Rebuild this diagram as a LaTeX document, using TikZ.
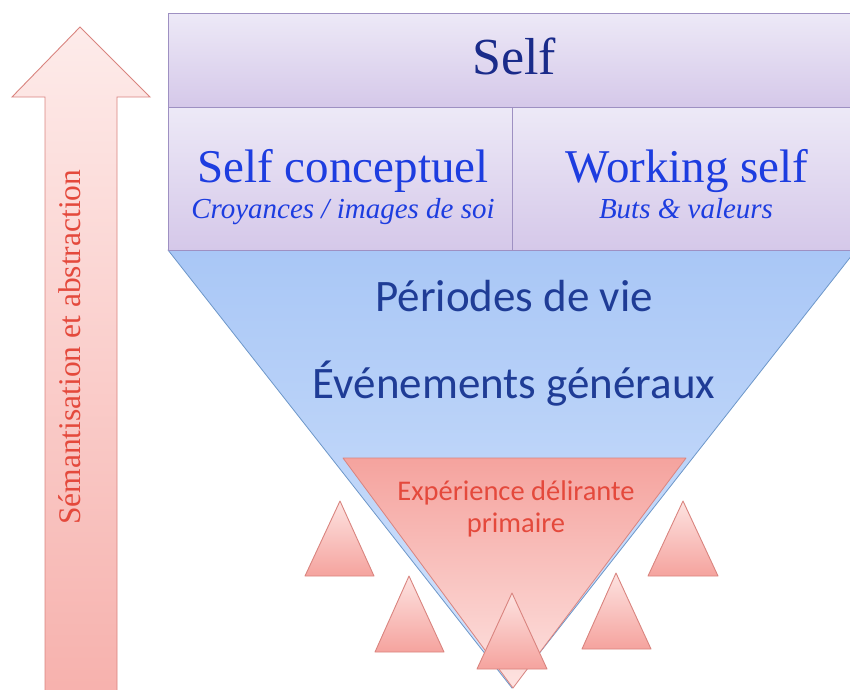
\documentclass[tikz,border=0pt]{standalone}
\usepackage{fontspec}
\setmainfont{Liberation Serif}
\newfontfamily\calibri{Carlito}

\definecolor{lilactop}{HTML}{EDE9F7}
\definecolor{lilacbot}{HTML}{D5C8E9}
\definecolor{lilacline}{HTML}{9E90C2}
\definecolor{bluetop}{HTML}{A9C7F6}
\definecolor{bluebot}{HTML}{D3E3FC}
\definecolor{blueline}{HTML}{6D97C9}
\definecolor{redtop}{HTML}{F5A39E}
\definecolor{redbot}{HTML}{FDE3E1}
\definecolor{redline}{HTML}{D9847F}
\definecolor{navytext}{HTML}{1A2B8A}
\definecolor{bluetext}{HTML}{1D3DE0}
\definecolor{midtext}{HTML}{1F3C96}
\definecolor{redtext}{HTML}{E4493C}

\tikzset{
	lilacbox/.style={draw=lilacline, line width=0.9pt, top color=lilactop, bottom color=lilacbot, inner sep=0pt},
	bigtri/.style={draw=blueline, line width=0.8pt, top color=bluetop, bottom color=bluebot, line join=round},
	redtri/.style={draw=redline, line width=0.8pt, top color=redtop, bottom color=redbot, line join=round},
	smalltri/.style={draw=redline, line width=0.9pt, top color=redbot, bottom color=redtop, line join=round},
	bigtext/.style={font=\fontsize{47}{50}\selectfont, text=bluetext},
	subtext/.style={font=\fontsize{29}{32}\selectfont\itshape, text=bluetext},
	midlabel/.style={font=\calibri\fontsize{45}{48}\selectfont, text=midtext}
}

\begin{document}
\begin{tikzpicture}[x=1pt,y=-1pt]
	\clip (0,0) rectangle (850,689);
	\def\midx{512};
	\def\rowa{250};
	\def\tipy{688};

	% arrow on the left
	\draw[draw=redline, line width=0.9pt, top color=redbot!70!white, bottom color=redtop!85!white]
		(80,27) -- (150,97) -- (117,97) -- (117,700) -- (45,700) -- (45,97) -- (12,97) -- cycle;
	\node[rotate=90, anchor=base west, font=\fontsize{31.5}{34}\selectfont, text=redtext, inner sep=0pt]
		(axis) at (80,525) {Sémantisation et abstraction};

	% funnel
	\draw[bigtri] (168,\rowa) -- (856,\rowa) -- (\midx,\tipy) -- cycle;
	\draw[redtri] (343,458) -- (686,458) -- (513,\tipy) -- cycle;

	% boxes
	\node[lilacbox, minimum width=688pt, minimum height=94pt] (self) at (\midx,60) {};
	\node[lilacbox, minimum width=344pt, minimum height=143pt] (concept) at (340,178.5) {};
	\node[lilacbox, minimum width=344pt, minimum height=143pt] (working) at (684,178.5) {};

	\node[anchor=base, font=\fontsize{52}{56}\selectfont, text=navytext] (selft) at (514,74) {Self};
	\node[bigtext, anchor=base] (conceptt) at (343,182) {Self conceptuel};
	\node[subtext, anchor=base] (conceptsub) at (343,218) {Croyances / images de soi};
	\node[bigtext, anchor=base] (workingt) at (687,182) {Working self};
	\node[subtext, anchor=base] (workingsub) at (686,218) {Buts \& valeurs};

	\node[midlabel, anchor=base] (periodes) at (514,311) {Périodes de vie};
	\node[midlabel, anchor=base] (evenements) at (514,398) {Événements généraux};

	\node[anchor=base, font=\calibri\fontsize{28.5}{30}\selectfont, text=redtext] (edp) at (516,500) {Expérience délirante};
	\node[anchor=base, font=\calibri\fontsize{28.5}{30}\selectfont, text=redtext] (edp2) at (516,532) {primaire};

	% small triangles
	\draw[smalltri] (340,501) -- (374,576) -- (305,576) -- cycle;
	\draw[smalltri] (409,576) -- (444,652) -- (375,652) -- cycle;
	\draw[smalltri] (512,593) -- (547,669) -- (477,669) -- cycle;
	\draw[smalltri] (616,573) -- (651,649) -- (582,649) -- cycle;
	\draw[smalltri] (683,501) -- (718,576) -- (648,576) -- cycle;
\end{tikzpicture}
\end{document}
